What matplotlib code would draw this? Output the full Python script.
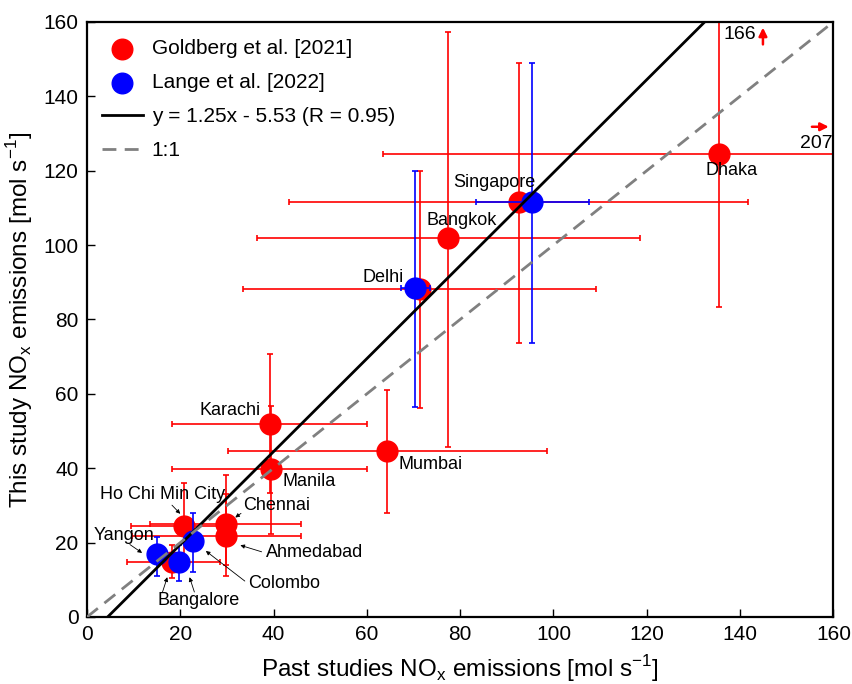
# NOx emissions: this study vs past studies, with error bars per city
import matplotlib
matplotlib.use('Agg')
import matplotlib.pyplot as plt
import numpy as np

plt.rcParams['font.family'] = ['Liberation Sans', 'DejaVu Sans']

# Goldberg et al. [2021]
g_city = ['Dhaka', 'Singapore', 'Bangkok', 'Delhi', 'Karachi', 'Mumbai', 'Manila',
          'Chennai', 'Ahmedabad', 'Ho Chi Min City', 'Bangalore']
g_x = [135.5, 92.5, 77.4, 71.4, 39.2, 64.4, 39.4, 29.8, 29.8, 20.8, 18.2]
g_y = [124.5, 111.5, 101.8, 88.3, 51.8, 44.6, 39.7, 25.0, 21.8, 24.5, 14.8]
g_xlo = [63.5, 43.4, 36.4, 33.5, 18.2, 30.2, 18.3, 13.5, 9.6, 9.5, 8.5]
g_xhi = [207.0, 141.8, 118.5, 109.2, 60.0, 98.7, 60.0, 45.8, 45.8, 28.5, 28.5]
g_ylo = [83.3, 73.6, 45.7, 56.2, 33.3, 28.0, 22.2, 14.0, 11.0, 13.0, 10.5]
g_yhi = [166.0, 149.0, 157.3, 120.0, 70.6, 61.0, 56.7, 38.2, 33.0, 35.9, 19.4]

# Lange et al. [2022]
l_city = ['Singapore', 'Delhi', 'Colombo', 'Yangon', 'Bangalore']
l_x = [95.5, 70.3, 22.8, 15.0, 19.7]
l_y = [111.5, 88.5, 20.5, 17.0, 14.8]
l_xlo = [83.4, 67.3, 22.8, 15.0, 19.7]
l_xhi = [107.7, 73.6, 22.8, 15.0, 19.7]
l_ylo = [73.6, 56.5, 12.0, 11.0, 9.8]
l_yhi = [149.0, 120.0, 28.0, 21.5, 19.4]

# regression
slope, intercept, r_val = 1.25, -5.53, 0.95

# city labels: (text, x, y) and optional arrow target
labels = [('Dhaka', 132.5, 120.0), ('Singapore', 78.5, 116.7), ('Bangkok', 72.7, 106.5),
          ('Delhi', 59.0, 91.4), ('Karachi', 24.2, 55.4), ('Manila', 42.0, 36.3),
          ('Mumbai', 66.7, 40.9)]
arrow_labels = [('Ho Chi Min City', 2.8, 32.8, 17.8, 30.6, 20.4, 27.2),
                ('Chennai', 33.4, 30.1, 33.5, 28.3, 31.3, 26.3),
                ('Ahmedabad', 38.4, 17.2, 38.0, 17.3, 32.3, 19.5),
                ('Colombo', 34.6, 8.9, 34.3, 9.2, 25.0, 18.2),
                ('Yangon', 1.5, 22.0, 8.7, 19.9, 12.3, 16.8)]


def asym(c, lo, hi):
    c = np.array(c)
    return np.vstack([c - np.array(lo), np.array(hi) - c])


fig = plt.figure(figsize=(8.53, 6.84), dpi=100)
ax = fig.add_axes([0.102, 0.098, 0.875, 0.87])

ebkw = dict(fmt='o', markersize=15, elinewidth=1.2, capsize=2.5, capthick=1.2, linestyle='none')
ax.errorbar(g_x, g_y, xerr=asym(g_x, g_xlo, g_xhi), yerr=asym(g_y, g_ylo, g_yhi),
            color='#ff0000', ecolor='#ff0000', zorder=2, **ebkw)
ax.errorbar(l_x, l_y, xerr=asym(l_x, l_xlo, l_xhi), yerr=asym(l_y, l_ylo, l_yhi),
            color='#0000ff', ecolor='#0000ff', zorder=3, **ebkw)

xx = np.array([0, 160])
ax.plot(xx, slope * xx + intercept, color='black', lw=2, zorder=4)
ax.plot(xx, xx, color='#808080', lw=2, ls=(0, (5, 3)), zorder=4)

fs_city = 13
for t, x, y in labels:
    ax.text(x, y, t, fontsize=fs_city, ha='left', va='center', zorder=6)
for t, x, y, ax0, ay0, ax1, ay1 in arrow_labels:
    ax.text(x, y, t, fontsize=fs_city, ha='left', va='center', zorder=6)
    ax.annotate('', xy=(ax1, ay1), xytext=(ax0, ay0), zorder=6,
                arrowprops=dict(arrowstyle='-|>', color='black', lw=0.6, mutation_scale=6))
ax.text(15.2, 4.3, 'Bangalore', fontsize=fs_city, ha='left', va='center', zorder=6)
for ax0, ax1 in [(16.0, 17.4), (23.2, 21.8)]:
    ax.annotate('', xy=(ax1, 11.4), xytext=(ax0, 6.0), zorder=6,
                arrowprops=dict(arrowstyle='-|>', color='black', lw=0.6, mutation_scale=6))

# out-of-range markers for Dhaka
ax.text(136.4, 156.5, '166', fontsize=14, ha='left', va='center')
ax.annotate('', xy=(144.9, 159.2), xytext=(144.9, 153.2),
            arrowprops=dict(arrowstyle='-|>', color='#ff0000', lw=1.8, mutation_scale=12))
ax.text(159.8, 127.4, '207', fontsize=14, ha='right', va='center')
ax.annotate('', xy=(159.6, 131.8), xytext=(154.8, 131.8),
            arrowprops=dict(arrowstyle='-|>', color='#ff0000', lw=1.8, mutation_scale=12))

ax.set_xlim(0, 160)
ax.set_ylim(0, 160)
ax.set_xticks(np.arange(0, 161, 20))
ax.set_yticks(np.arange(0, 161, 20))
ax.tick_params(direction='in', length=6, width=1, labelsize=15, pad=6)
for s in ax.spines.values():
    s.set_linewidth(1.6)

ax.set_xlabel('Past studies NO$_\\mathregular{x}$ emissions [mol s$^\\mathregular{-1}$]', fontsize=17.5, labelpad=6)
ax.set_ylabel('This study NO$_\\mathregular{x}$ emissions [mol s$^\\mathregular{-1}$]', fontsize=17.5, labelpad=6)

h1 = ax.scatter([], [], s=220, color='#ff0000')
h2 = ax.scatter([], [], s=220, color='#0000ff')
h3, = ax.plot([], [], color='black', lw=2)
h4, = ax.plot([], [], color='#808080', lw=2, ls=(0, (5, 3)))
ax.legend([h1, h2, h3, h4],
          ['Goldberg et al. [2021]', 'Lange et al. [2022]',
           'y = %.2fx - %.2f (R = %.2f)' % (slope, -intercept, r_val), '1:1'],
          loc='upper left', frameon=False, fontsize=15, handlelength=2.0, handletextpad=0.4,
          labelspacing=0.72, borderaxespad=0.3, bbox_to_anchor=(0.0, 0.995))

fig.savefig('out.png', dpi=100)
